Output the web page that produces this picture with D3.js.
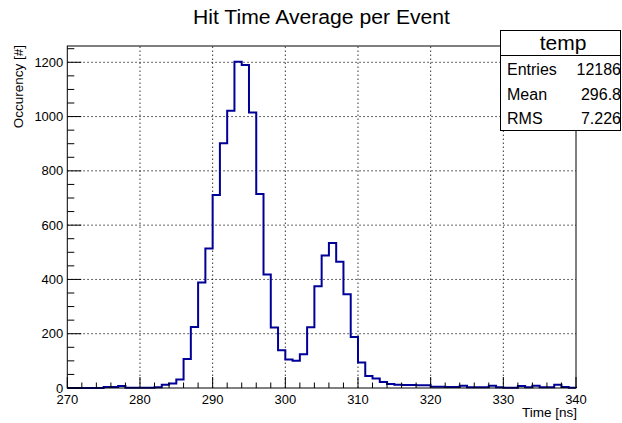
<!DOCTYPE html>
<html><head><meta charset="utf-8">
<script src="https://cdn.jsdelivr.net/npm/d3@7"></script>
<style>body{margin:0;background:#fff}svg{display:block}text{font-family:"Liberation Sans",Arial,Helvetica,sans-serif}</style>
</head><body>
<script>
const binStart = 270, binWidth = 1;
const counts = [0,0,0,0,0,4,4,7,1,1,1,1,3,12,17,31,107,225,389,514,711,902,1021,1202,1190,1015,715,418,223,139,105,100,124,224,375,488,534,465,345,188,94,44,35,22,15,12,11,11,10,10,5,5,4,4,8,3,3,3,8,3,1,1,7,3,8,3,3,12,4,1];
const xTicks = [270,280,290,300,310,320,330,340];
const yTicks = [0,200,400,600,800,1000,1200];
const statLabels = ["Entries","Mean","RMS"];
const statValues = ["12186","296.8","7.226"];

const W=622,H=423;
const L=67.3,R=576,T=46,B=388;
const svg=d3.select("body").append("svg").attr("width",W).attr("height",H);
const x=d3.scaleLinear().domain([270,340]).range([L,R]);
const y=d3.scaleLinear().domain([0,1260]).range([B,T]);

// grid
const g=svg.append("g");
g.selectAll(".gx").data(xTicks.slice(1,-1)).join("line")
 .attr("x1",d=>x(d)).attr("x2",d=>x(d)).attr("y1",B).attr("y2",T)
 .attr("stroke","#000").attr("stroke-width",0.8).attr("stroke-dasharray","1.5,2.5");
g.selectAll(".gy").data(yTicks.slice(1)).join("line")
 .attr("x1",L).attr("x2",R).attr("y1",d=>y(d)).attr("y2",d=>y(d))
 .attr("stroke","#000").attr("stroke-width",0.8).attr("stroke-dasharray","1.5,2.5");

// histogram step path
let pts=[[x(binStart),y(0)]];
counts.forEach((c,i)=>{const x0=x(binStart+i*binWidth),x1=x(binStart+(i+1)*binWidth);pts.push([x0,y(c)],[x1,y(c)]);});
pts.push([x(binStart+counts.length*binWidth),y(0)]);
svg.append("path").attr("d",d3.line()(pts)).attr("fill","none").attr("stroke","#000099").attr("stroke-width",2);

// axes
const xa=svg.append("g").attr("transform",`translate(0,${B})`);
xa.selectAll("line.t").data(d3.range(270,340.1,2)).join("line")
 .attr("x1",d=>x(d)).attr("x2",d=>x(d)).attr("y1",0).attr("y2",d=>d%10===0?-11:-5.5)
 .attr("stroke","#000").attr("stroke-width",1);
xa.selectAll("text").data(xTicks).join("text")
 .attr("x",d=>x(d)).attr("y",15.5).attr("text-anchor","middle").attr("font-size",13).text(d=>d);

const ya=svg.append("g").attr("transform",`translate(${L},0)`);
ya.selectAll("line.t").data(d3.range(0,1260,50)).join("line")
 .attr("y1",d=>y(d)).attr("y2",d=>y(d)).attr("x1",0).attr("x2",d=>d%200===0?14:7)
 .attr("stroke","#000").attr("stroke-width",1);
ya.selectAll("text").data(yTicks).join("text")
 .attr("x",-4).attr("y",d=>y(d)+4.5).attr("text-anchor","end").attr("font-size",13).text(d=>d);

// frame
svg.append("rect").attr("x",L).attr("y",T).attr("width",R-L).attr("height",B-T)
 .attr("fill","none").attr("stroke","#000").attr("stroke-width",1);

// titles
svg.append("text").attr("x",321.5).attr("y",23.5).attr("text-anchor","middle").attr("font-size",19.5)
 .attr("textLength",257).attr("lengthAdjust","spacingAndGlyphs").text("Hit Time Average per Event");
svg.append("text").attr("x",R+1).attr("y",417).attr("text-anchor","end").attr("font-size",13.5).text("Time [ns]");
svg.append("text").attr("transform",`translate(23,${T-1}) rotate(-90)`).attr("text-anchor","end").attr("font-size",13.5).text("Occurency [#]");

// stats box
const sb=svg.append("g");
sb.append("rect").attr("x",500.5).attr("y",30.5).attr("width",120).attr("height",100).attr("fill","#fff").attr("stroke","#000").attr("stroke-width",1);
sb.append("line").attr("x1",500.5).attr("x2",620.5).attr("y1",55.5).attr("y2",55.5).attr("stroke","#000");
sb.append("text").attr("x",563).attr("y",50).attr("text-anchor","middle").attr("font-size",21).text("temp");
statLabels.forEach((s,i)=>{
  sb.append("text").attr("x",507).attr("y",75+i*24.5).attr("font-size",16).text(s);
  sb.append("text").attr("x",621).attr("y",75+i*24.5).attr("text-anchor","end").attr("font-size",16).text(statValues[i]);
});
</script>
</body></html>
